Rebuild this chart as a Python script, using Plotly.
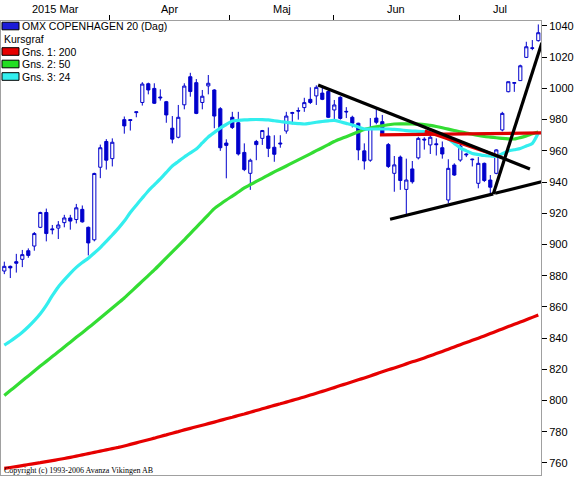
import plotly.graph_objects as go

# ---------------- data ----------------
opens = [883, 886, 889, 890.5, 896, 899, 911, 920.5, 910, 910.5,
         914, 917, 916, 922.5, 911, 903, 949.5, 966, 955, None,
         980, 980, 984.5, 991, 1003, 1000, 994.5, 991.5, 974.5, 968.7,
         989.5, 1007.5, 1003.7, 991, 1001.6, 999, 987, 965, 981.5, 978,
         959, 945.6, 966, 968, 969.5, 962.3, 965, 972.7, 984, 985.8,
         987.7, 993, 995.2, 997, 998, 986.2, 994.3, 985.3, 981.5, 977.7,
         960, 954, 981, 978.7, 964, 945.6, 956, 935.3, 948.4, 955.5,
         967.5, 963.8, 964.5, 962, 928.5, 950.9, 954.1, 958, 954.3, 939.2,
         952, 941.3, 945.6, 973.4, 997.9, 1003.3, 1005, 1019.9, 1026, 1030.6]
highs = [889, 886.5, 894, 896.5, 897.5, 908, 921, 923, 912.5, 915,
         919, 919, 926, 925, 911.5, 946, 964, 967.5, 968, None,
         982, 980.2, 985, 1004, 1003.7, 1003.3, 999.4, 992, 982.3, 989.4,
         1003.3, 1010, 1006, 999, 1008.6, 999.5, 988, 967.4, 985, 985,
         964.8, 955, 967, 973.4, 975, 970, 970, 985, 985, 987.8,
         994, 1000.7, 1002, 1001, 999, 992.6, 995, 988, 982.5, 978,
         964.8, 981, 987.3, 983, 965, 956.7, 957, 955, 953.5, 969,
         968.7, 972, 968, 966, 954.6, 952, 965, 958.5, 955, 956,
         952.5, 944.5, 961, 985, 1004.3, 1003.7, 1015.2, 1029.9, 1031, 1041]
lows = [881, 878.5, 882, 885.5, 891.5, 896, 910.5, 902, 906.5, 903.5,
        911, 909.5, 913.5, 914, 893, 902, 942.5, 948, 950, None,
        971, 973, 981.5, 989, 996.2, 990, 992.2, 978, 964.8, 968,
        986.6, 994.7, 983.5, 986.6, 996.2, 974.5, 960, 942.4, 974, 957,
        947, 935, 954, 963.8, 956, 953, 962, 971, 977, 980,
        985, 990, 989.4, 992.5, 981, 980.2, 980, 981, 975, 954,
        948, 953, 977, 970, 949, 933.8, 935, 919, 939, 954.5,
        960.8, 958, 957, 955, 926.4, 944, 953, 956, 950, 936,
        940, 932.8, 945, 972.5, 997.5, 997.8, 1005, 1019.5, 1024.5, 1030]
closes = [886, 885, 888, 893.5, 893, 907, 920.5, 907, 909.5, 912.5,
          917, 915, 923.5, 914.5, 901, 945.5, 962, 954, 965.5, None,
          976, 979.5, 985, 1002.8, 999, 990.5, 994, 983, 967.5, 981.5,
          1001.5, 998, 984, 995, 1003.3, 982.3, 962, 963.5, 975, 958,
          948, 954, 964, 973, 961.6, 957.8, 964.5, 982.3, 984.5, 985.5,
          990.9, 991, 1000.7, 993, 981.5, 989.4, 980.8, 985, 977.7, 960.6,
          953.5, 974.4, 978.3, 971, 950, 951, 941, 941.3, 940.2, 968,
          967, 968.7, 964, 958, 948.8, 944.5, 963.1, 957.5, 954.6, 952,
          941, 936.7, 960.6, 984, 1004.3, 1003.7, 1014.5, 1026.7, 1025.7, 1035.7]

ma200 = [756.5, 757.1, 757.7, 758.3, 759.0, 759.6, 760.2, 760.9, 761.5, 762.2,
         762.9, 763.6, 764.4, 765.2, 766.0, 766.8, 767.6, 768.4, 769.2, 770.0,
         770.9, 771.9, 772.9, 773.9, 774.9, 775.9, 777.0, 778.0, 779.1, 780.1,
         781.2, 782.2, 783.2, 784.2, 785.2, 786.2, 787.3, 788.3, 789.3, 790.4,
         791.4, 792.5, 793.6, 794.7, 795.8, 796.9, 797.9, 799.0, 800.1, 801.2,
         802.3, 803.5, 804.7, 805.9, 807.1, 808.3, 809.6, 810.8, 812.0, 813.3,
         814.5, 815.8, 817.1, 818.4, 819.7, 820.9, 822.2, 823.5, 824.8, 826.0,
         827.3, 828.7, 830.1, 831.5, 832.9, 834.3, 835.8, 837.2, 838.6, 840.0,
         841.4, 842.9, 844.4, 845.9, 847.4, 848.9, 850.3, 851.8, 853.3, 854.8]
ma50 = [803.3, 806.4, 809.5, 812.7, 815.8, 819.0, 822.1, 825.1, 828.2, 831.2,
        834.3, 837.4, 840.5, 843.5, 846.6, 849.7, 852.9, 856.1, 859.3, 862.5,
        865.7, 869.3, 872.9, 876.5, 880.1, 883.7, 887.5, 891.4, 895.2, 899.1,
        902.9, 907.0, 911.0, 915.0, 919.0, 923.0, 925.8, 928.5, 931.0, 933.6,
        936.2, 938.3, 940.4, 942.4, 944.5, 946.5, 948.4, 950.3, 952.3, 954.2,
        956.1, 958.1, 960.1, 962.0, 964.0, 966.0, 967.6, 969.1, 970.6, 972.2,
        973.7, 974.6, 975.4, 976.1, 976.7, 977.2, 977.3, 977.3, 977.2, 977.1,
        976.9, 976.3, 975.6, 974.8, 973.9, 973.0, 972.2, 971.4, 970.6, 969.9,
        969.2, 968.8, 968.4, 968.0, 967.7, 967.6, 968.5, 969.6, 970.9, 972.1]
ma24 = [835.5, 838.0, 840.8, 843.8, 847.3, 851.2, 855.6, 861.0, 867.2, 872.8,
        877.3, 881.5, 885.3, 888.4, 891.2, 894.5, 898.0, 902.0, 906.1, 910.3,
        915.0, 920.5, 925.2, 929.8, 934.3, 938.2, 942.0, 946.2, 950.3, 953.2,
        956.1, 958.7, 961.2, 965.1, 968.9, 971.8, 974.6, 976.9, 979.1, 979.5,
        979.8, 980.0, 980.1, 980.0, 979.8, 979.3, 978.8, 978.2, 977.8, 977.5,
        977.2, 977.7, 978.3, 978.8, 979.2, 979.5, 978.6, 977.6, 976.6, 975.3,
        974.0, 974.0, 974.0, 974.0, 974.0, 973.7, 973.4, 973.0, 972.7, 972.5,
        972.3, 972.0, 971.8, 969.7, 967.6, 964.7, 961.8, 960.0, 958.3, 957.6,
        957.0, 956.7, 956.4, 958.1, 959.9, 960.7, 961.5, 963.1, 964.7, 971.4]

# drawn trend lines: (x0 index, y0, x1 index, y1)
black_lines = [(52.3, 1002.2, 87.6, 948.4),
               (64.3, 916.2, 81.5, 932.4),
               (81.8, 932.8, 89.6, 940.2),
               (81.5, 932.4, 89.6, 1029.3)]
red_lines = [(62.6, 970.2, 89.45, 971.5),
             (70.1, 972.7, 83.0, 955.7)]

month_labels = ["2015 Mar", "Apr", "Maj", "Jun", "Jul"]
month_bounds = [17.6, 37.6, 54.8, 75.9]
y_ticks = list(range(760, 1041, 20))

legend_items = [("OMX COPENHAGEN 20 (Dag)", "#1c1cd8"), ("Kursgraf", None),
                ("Gns. 1: 200", "#e60000"), ("Gns. 2: 50", "#22dd22"),
                ("Gns. 3: 24", "#33eeee")]

# ---------------- figure ----------------
W, H = 577, 477
L, R, T, B = 1, 36, 21, 2
XR = [-0.55, 89.45]
YR = [752.3, 1043.2]

idx = list(range(len(opens)))
BLUE = "#0000cc"
fig = go.Figure()
fig.add_trace(go.Candlestick(
    x=idx, open=opens, high=highs, low=lows, close=closes,
    increasing=dict(line=dict(color=BLUE, width=1), fillcolor="white"),
    decreasing=dict(line=dict(color=BLUE, width=1), fillcolor=BLUE),
    whiskerwidth=0, showlegend=False, hoverinfo="skip"))

for vals, col in [(ma200, "#e60000"), (ma50, "#33dd33"), (ma24, "#33eeee")]:
    fig.add_trace(go.Scatter(x=idx, y=vals, mode="lines",
                             line=dict(color=col, width=3.2, shape="spline", smoothing=0.6),
                             showlegend=False, hoverinfo="skip"))

for (x0, y0, x1, y1) in red_lines:
    fig.add_trace(go.Scatter(x=[x0, x1], y=[y0, y1], mode="lines",
                             line=dict(color="#dd0000", width=3.2),
                             showlegend=False, hoverinfo="skip"))
for (x0, y0, x1, y1) in black_lines:
    fig.add_trace(go.Scatter(x=[x0, x1], y=[y0, y1], mode="lines",
                             line=dict(color="black", width=3.2),
                             showlegend=False, hoverinfo="skip"))

pw = W - L - R
ph = H - T - B


def px(xp):
    return (xp - L) / pw


def py(yp):
    return (H - B - yp) / ph


shapes = []
annotations = []
row_y = [26, 39, 51.5, 64, 76.5]
for (txt, col), yy in zip(legend_items, row_y):
    if col:
        shapes.append(dict(type="rect", xref="paper", yref="paper",
                           x0=px(2), x1=px(19), y0=py(yy - 3.8), y1=py(yy + 3.8),
                           fillcolor=col, line=dict(color="black", width=1)))
    annotations.append(dict(text=txt, xref="paper", yref="paper",
                            x=px(20 if col else 2), y=py(yy), xanchor="left",
                            yanchor="middle", showarrow=False,
                            font=dict(family="Liberation Sans, Arial", size=10.5, color="black")))

edges = [XR[0]] + month_bounds + [XR[1]]
for i, lab in enumerate(month_labels):
    annotations.append(dict(text=lab, xref="x", yref="paper",
                            x=(edges[i] + edges[i + 1]) / 2, y=py(9),
                            xanchor="center", yanchor="middle", showarrow=False,
                            font=dict(family="Liberation Sans, Arial", size=11, color="black")))

annotations.append(dict(text="Copyright (c) 1993-2006 Avanza Vikingen AB",
                        xref="paper", yref="paper", x=px(2), y=py(470),
                        xanchor="left", yanchor="middle", showarrow=False,
                        font=dict(family="Liberation Serif, Times New Roman", size=8, color="black")))

fig.update_layout(
    width=W, height=H, margin=dict(l=L, r=R, t=T, b=B, autoexpand=False),
    paper_bgcolor="white", plot_bgcolor="white",
    shapes=shapes, annotations=annotations, showlegend=False,
    boxgap=0.25,
    xaxis=dict(range=XR, side="top", tickvals=month_bounds,
               ticktext=["" for _ in month_bounds], ticks="outside",
               ticklen=5, tickcolor="black", showgrid=False, zeroline=False,
               showline=True, linecolor="#a0a0a0", linewidth=1, mirror=True,
               rangeslider=dict(visible=False), fixedrange=True),
    yaxis=dict(range=YR, side="right", tickvals=y_ticks, ticks="outside",
               ticklen=5, tickcolor="black", showgrid=False, zeroline=False,
               showline=True, linecolor="#a0a0a0", linewidth=1, mirror=True,
               tickfont=dict(family="Liberation Sans, Arial", size=11, color="black"),
               fixedrange=True),
)

fig.write_html("out.html", config={"displayModeBar": False},
               post_script="document.body.style.margin='0';document.body.style.overflow='hidden';")
